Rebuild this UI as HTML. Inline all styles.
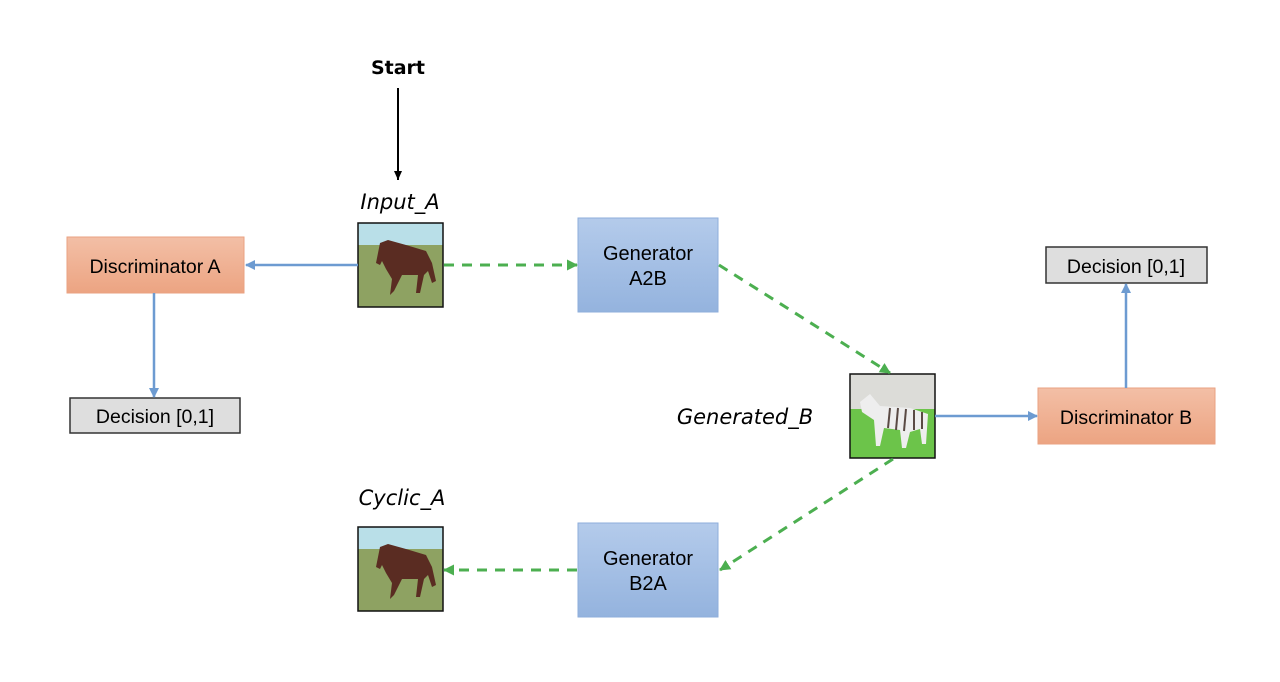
<!DOCTYPE html>
<html><head><meta charset="utf-8"><style>html,body{margin:0;padding:0;background:#fff}</style></head>
<body>
<svg width="1280" height="677" viewBox="0 0 1280 677" xmlns="http://www.w3.org/2000/svg" font-family="Liberation Sans, sans-serif">
<defs>
<linearGradient id="gb" x1="0" y1="0" x2="0" y2="1"><stop offset="0" stop-color="#b4cbeb"/><stop offset="1" stop-color="#94b3de"/></linearGradient>
<linearGradient id="go" x1="0" y1="0" x2="0" y2="1"><stop offset="0" stop-color="#f3bfa6"/><stop offset="1" stop-color="#eca482"/></linearGradient>
<marker id="ab" markerWidth="10" markerHeight="10" refX="9" refY="5" orient="auto" markerUnits="userSpaceOnUse"><path d="M0,0 L10,5 L0,10 z" fill="#6d9bd1"/></marker>
<marker id="ag" markerWidth="11" markerHeight="11" refX="10" refY="5.5" orient="auto" markerUnits="userSpaceOnUse"><path d="M0,0 L11,5.5 L0,11 z" fill="#4caf50"/></marker>
<marker id="ak" markerWidth="10" markerHeight="10" refX="9" refY="5" orient="auto" markerUnits="userSpaceOnUse"><path d="M0,1 L9,5 L0,9 z" fill="#000"/></marker>
<g id="horse">
<rect width="85" height="84" fill="#7f9a55"/>
<rect width="85" height="22" fill="#b9dfe8"/>
<rect y="22" width="85" height="62" fill="#8ea262"/>
<path d="M22,20 L30,17 L48,22 L68,28 L74,40 L78,58 L74,60 L70,48 L66,52 L62,70 L58,70 L60,52 L44,52 L36,68 L32,72 L34,56 L28,46 L24,38 L22,42 L18,40 Z" fill="#5a2c22"/>
</g>
</defs>
<text x="398" y="74" font-size="19" font-weight="bold" text-anchor="middle" font-family="DejaVu Sans, sans-serif">Start</text>
<line x1="398" y1="88" x2="398" y2="180" stroke="#000" stroke-width="2" marker-end="url(#ak)"/>
<text x="400" y="209" font-size="21" font-style="italic" text-anchor="middle" font-family="DejaVu Sans, sans-serif">Input_A</text>
<text x="402" y="505" font-size="21" font-style="italic" text-anchor="middle" font-family="DejaVu Sans, sans-serif">Cyclic_A</text>
<text x="745" y="424" font-size="21" font-style="italic" text-anchor="middle" font-family="DejaVu Sans, sans-serif">Generated_B</text>

<use href="#horse" x="358" y="223"/><rect x="358" y="223" width="85" height="84" fill="none" stroke="#111" stroke-width="1.5"/>
<use href="#horse" x="358" y="527"/><rect x="358" y="527" width="85" height="84" fill="none" stroke="#111" stroke-width="1.5"/>
<g transform="translate(850,374)">
<rect width="85" height="84" fill="#6cc44a"/>
<rect width="85" height="35" fill="#dcdcd8"/>
<path d="M10,28 L20,20 L30,32 L60,34 L78,40 L76,70 L72,70 L70,55 L60,58 L56,74 L52,74 L50,56 L34,54 L30,72 L26,72 L24,46 L12,38 Z" fill="#eeeeee"/>
<g stroke="#5a4a44" stroke-width="2"><line x1="40" y1="34" x2="38" y2="54"/><line x1="48" y1="34" x2="46" y2="56"/><line x1="56" y1="35" x2="54" y2="57"/><line x1="64" y1="36" x2="64" y2="56"/><line x1="72" y1="38" x2="72" y2="55"/></g>
</g>
<rect x="850" y="374" width="85" height="84" fill="none" stroke="#111" stroke-width="1.5"/>

<rect x="578" y="218" width="140" height="94" fill="url(#gb)" stroke="#8eaedb" stroke-width="1"/>
<text x="648" y="260" font-size="20" text-anchor="middle">Generator</text>
<text x="648" y="285" font-size="20" text-anchor="middle">A2B</text>
<rect x="578" y="523" width="140" height="94" fill="url(#gb)" stroke="#8eaedb" stroke-width="1"/>
<text x="648" y="565" font-size="20" text-anchor="middle">Generator</text>
<text x="648" y="590" font-size="20" text-anchor="middle">B2A</text>

<rect x="67" y="237" width="177" height="56" fill="url(#go)" stroke="#eaa282" stroke-width="1"/>
<text x="155" y="273" font-size="19.5" text-anchor="middle">Discriminator A</text>
<rect x="1038" y="388" width="177" height="56" fill="url(#go)" stroke="#eaa282" stroke-width="1"/>
<text x="1126" y="424" font-size="19.5" text-anchor="middle">Discriminator B</text>

<rect x="70" y="398" width="170" height="35" fill="#dedede" stroke="#333" stroke-width="1.5"/>
<text x="155" y="423" font-size="19.5" text-anchor="middle">Decision [0,1]</text>
<rect x="1046" y="247" width="161" height="36" fill="#dedede" stroke="#333" stroke-width="1.5"/>
<text x="1126" y="273" font-size="19.5" text-anchor="middle">Decision [0,1]</text>

<g stroke="#6d9bd1" stroke-width="2.5" fill="none">
<line x1="358" y1="265" x2="246" y2="265" marker-end="url(#ab)"/>
<line x1="154" y1="293" x2="154" y2="397" marker-end="url(#ab)"/>
<line x1="935" y1="416" x2="1037" y2="416" marker-end="url(#ab)"/>
<line x1="1126" y1="388" x2="1126" y2="284" marker-end="url(#ab)"/>
</g>
<g stroke="#4caf50" stroke-width="3" fill="none" stroke-dasharray="10,8">
<line x1="444" y1="265" x2="577" y2="265" marker-end="url(#ag)"/>
<line x1="719" y1="265" x2="890" y2="373" marker-end="url(#ag)"/>
<line x1="893" y1="459" x2="720" y2="570" marker-end="url(#ag)"/>
<line x1="577" y1="570" x2="444" y2="570" marker-end="url(#ag)"/>
</g>
</svg>
</body></html>
